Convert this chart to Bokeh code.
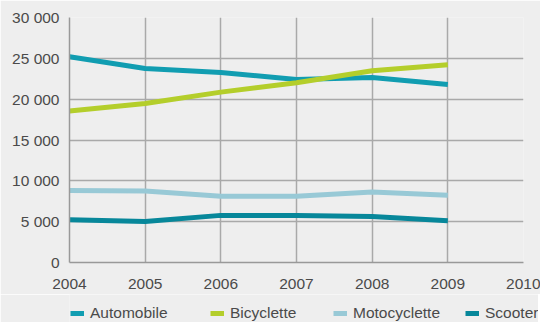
from bokeh.plotting import figure
from bokeh.layouts import column
from bokeh.models import Legend, LegendItem, FixedTicker, CustomJSTickFormatter, ColumnDataSource
from bokeh.embed import file_html
from bokeh.resources import INLINE

years = [2004, 2005, 2006, 2007, 2008, 2009]
automobile = [25190, 23760, 23270, 22410, 22660, 21800]
bicyclette = [18560, 19470, 20860, 22000, 23470, 24210]
motocyclette = [8830, 8750, 8100, 8100, 8630, 8220]
scooter = [5240, 5030, 5770, 5770, 5640, 5120]

series_names = ["Automobile", "Bicyclette", "Motocyclette", "Scooter"]
series_values = [automobile, bicyclette, motocyclette, scooter]
series_colors = ["#119DB1", "#B4CE2B", "#98C9D6", "#07879A"]

x_ticks = [2004, 2005, 2006, 2007, 2008, 2009, 2010]
y_ticks = [0, 5000, 10000, 15000, 20000, 25000, 30000]

BG = "#EEEEEE"
TXT = "#4a4a4a"
FONT = "Liberation Sans"

p = figure(frame_width=454, frame_height=245,
           x_range=(2004, 2010), y_range=(0, 30000),
           output_backend="svg", toolbar_location=None,
           min_border_left=69, min_border_right=17, min_border_top=17, min_border_bottom=32)
p.background_fill_color = BG
p.border_fill_color = BG
p.outline_line_color = None

for name, vals, col in zip(series_names, series_values, series_colors):
    src = ColumnDataSource(dict(x=years, y=vals))
    p.line("x", "y", source=src, line_color=col, line_width=5, line_join="round", line_cap="butt")

for ax in (p.xaxis[0], p.yaxis[0]):
    ax.major_tick_line_color = None
    ax.minor_tick_line_color = None
    ax.axis_line_color = "#999999"
    ax.axis_line_width = 1.5
    ax.major_label_text_font = FONT
    ax.major_label_text_font_size = "15.5px"
    ax.major_label_text_color = TXT

p.xaxis.ticker = FixedTicker(ticks=x_ticks)
p.yaxis.ticker = FixedTicker(ticks=y_ticks)
p.xaxis.major_label_standoff = 10
p.yaxis.major_label_standoff = 4
p.yaxis.formatter = CustomJSTickFormatter(code="""
    return tick.toFixed(0).replace(/\\B(?=(\\d{3})+(?!\\d))/g, '\\u00a0');
""")

for g in (p.xgrid[0], p.ygrid[0]):
    g.grid_line_color = "#A9A9A9"
    g.grid_line_width = 1.5
p.xgrid.ticker = FixedTicker(ticks=x_ticks)
p.ygrid.ticker = FixedTicker(ticks=y_ticks)

# legend strip below the chart (its frame is aligned with the chart's frame)
lf = figure(frame_width=469, frame_height=28, x_range=(0, 1), y_range=(0, 1),
            x_axis_type=None, y_axis_type=None,
            output_backend="svg", toolbar_location=None,
            min_border_left=69, min_border_right=0, min_border_top=0, min_border_bottom=0)
lf.background_fill_color = BG
lf.border_fill_color = BG
lf.outline_line_color = None
lf.grid.visible = False

x_offsets = [1, 141, 264, 396]
for name, vals, col, xo in zip(series_names, series_values, series_colors, x_offsets):
    # same series, outside this strip's range: only the legend swatch shows
    r = lf.line(x=years, y=vals, line_color=col, line_width=5)
    lg = Legend(items=[LegendItem(label=name, renderers=[r])],
                location=(xo, 0), orientation="horizontal",
                background_fill_alpha=0, border_line_color=None,
                padding=0, margin=0, glyph_width=14, glyph_height=16,
                label_standoff=6, label_text_font=FONT,
                label_text_font_size="15.5px", label_text_color=TXT,
                label_height=16)
    lf.add_layout(lg, "center")

layout = column(p, lf, spacing=0)
open("out.html", "w").write(file_html(layout, INLINE))
